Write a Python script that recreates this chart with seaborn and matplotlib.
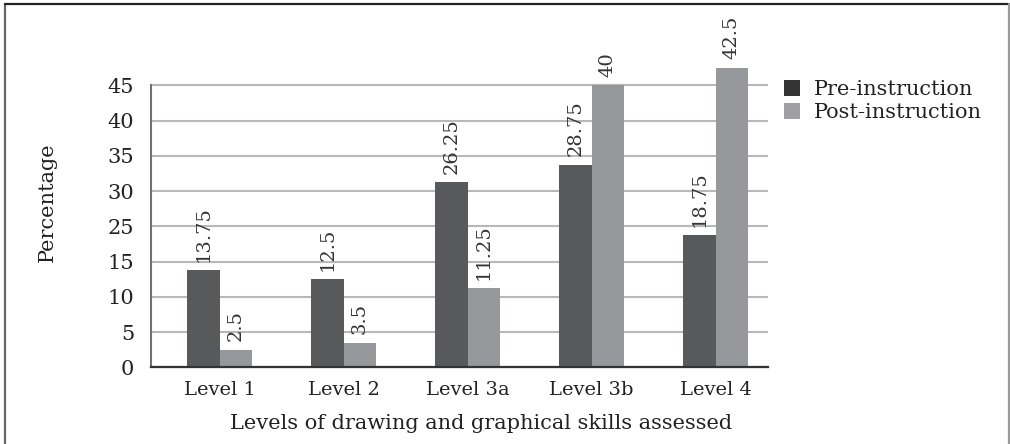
import matplotlib
matplotlib.use("Agg")
import matplotlib.pyplot as plt
import seaborn as sns
import pandas as pd
from matplotlib.patches import Patch
from matplotlib.lines import Line2D

# ---- data ----
categories = ["Level 1", "Level 2", "Level 3a", "Level 3b", "Level 4"]
pre = [13.75, 12.5, 26.25, 28.75, 18.75]
post = [2.5, 3.5, 11.25, 40, 42.5]
series = ["Pre-instruction", "Post-instruction"]
ytick_values = [0, 5, 10, 15, 20, 25, 30, 35, 40]
ytick_labels = ["0", "5", "10", "15", "25", "30", "35", "40", "45"]

df = pd.DataFrame({
    "Level": categories * 2,
    "Percentage": pre + post,
    "Series": [series[0]] * len(categories) + [series[1]] * len(categories),
})

c_pre = "#58595b"
c_post = "#97989c"

sns.set_theme(style="white")
plt.rcParams["font.family"] = ["DejaVu Serif"]

fig = plt.figure(figsize=(10.1, 4.44), dpi=100)
ax = fig.add_axes([0.1492, 0.1727, 0.6109, 0.762])

sns.barplot(data=df, x="Level", y="Percentage", hue="Series",
            palette=[c_pre, c_post], width=0.524, saturation=1,
            gap=0, errorbar=None, legend=False, linewidth=0, ax=ax)

for cont, vals in zip(ax.containers, [pre, post]):
    ax.bar_label(cont, labels=[f"{v:g}" for v in vals], rotation=90,
                 padding=6, fontsize=14, color="#333333")

ax.set_xlim(-0.556, 4.42)
ax.set_ylim(0, 48)
ax.set_yticks(ytick_values, ytick_labels)
ax.set_axisbelow(True)
ax.yaxis.grid(True, color="#b8b8b8", lw=1.5)
ax.xaxis.grid(False)

for s in ["top", "right"]:
    ax.spines[s].set_visible(False)
ax.spines["left"].set_bounds(0, 40)
ax.spines["left"].set_color("#707070")
ax.spines["left"].set_linewidth(1.5)
ax.spines["bottom"].set_color("#333333")
ax.spines["bottom"].set_linewidth(1.6)

ax.tick_params(axis="y", length=0, pad=12, labelsize=15, labelcolor="#222222")
ax.tick_params(axis="x", length=0, pad=10, labelsize=14, labelcolor="#222222")

ax.set_xlabel("Levels of drawing and graphical skills assessed", fontsize=15, color="#222222")
ax.set_ylabel("Percentage", fontsize=15, color="#222222")
ax.xaxis.label.set_va("center")
ax.yaxis.label.set_va("center")
ax.xaxis.set_label_coords(0.535, (21 / 444 - 0.1727) / 0.762)
ax.yaxis.set_label_coords((47 - 150.7) / 617, ((444 - 202.5) / 444 - 0.1727) / 0.762)

handles = [Patch(facecolor="#333333", edgecolor="none"),
           Patch(facecolor="#a0a0a2", edgecolor="none")]
fig.legend(handles, series, loc="upper left", bbox_to_anchor=(784 / 1010, 1 - 80 / 444),
           frameon=False, fontsize=15, handlelength=0.77, handleheight=0.77,
           handletextpad=0.67, labelspacing=0.2, borderaxespad=0, borderpad=0,
           labelcolor="#222222")

# outer frame
fig.add_artist(Line2D([5 / 1010, 5 / 1010], [0, 1 - 4 / 444], color="#666666", lw=1.6))
fig.add_artist(Line2D([5 / 1010, 1008.5 / 1010], [1 - 4 / 444, 1 - 4 / 444], color="#222222", lw=1.6))
fig.add_artist(Line2D([1008.5 / 1010, 1008.5 / 1010], [0, 1 - 4 / 444], color="#999999", lw=1.6))

fig.savefig("out.png", dpi=100)
